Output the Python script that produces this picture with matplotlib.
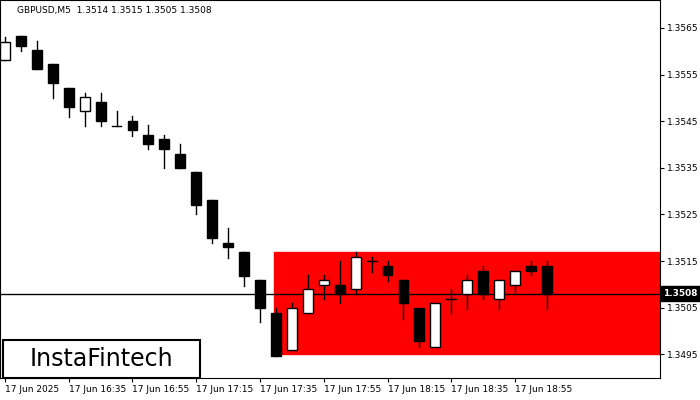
import matplotlib.pyplot as plt
from matplotlib.patches import Rectangle

opens = [1.35581, 1.35633, 1.35603, 1.35573, 1.35521, 1.35472, 1.35491, 1.35440, 1.35450, 1.35420, 1.35412, 1.35380,
         1.35341, 1.35281, 1.35188, 1.35169, 1.35109, 1.35038, 1.34959, 1.35038, 1.35098, 1.35098, 1.35090, 1.35150,
         1.35139, 1.35109, 1.35049, 1.34965, 1.35068, 1.35079, 1.35128, 1.35068, 1.35098, 1.35139, 1.35139]
closes = [1.35620, 1.35611, 1.35562, 1.35532, 1.35480, 1.35502, 1.35450, 1.35440, 1.35431, 1.35401, 1.35390, 1.35349,
          1.35270, 1.35199, 1.35180, 1.35117, 1.35049, 1.34946, 1.35049, 1.35090, 1.35109, 1.35079, 1.35158, 1.35150,
          1.35120, 1.35060, 1.34978, 1.35060, 1.35068, 1.35109, 1.35079, 1.35109, 1.35128, 1.35128, 1.35079]
highs = [1.35631, 1.35633, 1.35622, 1.35573, 1.35521, 1.35510, 1.35510, 1.35472, 1.35461, 1.35442, 1.35420, 1.35401,
         1.35341, 1.35281, 1.35221, 1.35169, 1.35109, 1.35049, 1.35060, 1.35120, 1.35120, 1.35150, 1.35169, 1.35158,
         1.35150, 1.35109, 1.35049, 1.35060, 1.35090, 1.35120, 1.35139, 1.35109, 1.35128, 1.35150, 1.35150]
lows = [1.35581, 1.35601, 1.35562, 1.35500, 1.35459, 1.35440, 1.35440, 1.35440, 1.35418, 1.35390, 1.35349, 1.35349,
        1.35251, 1.35188, 1.35156, 1.35096, 1.35019, 1.34946, 1.34959, 1.35038, 1.35068, 1.35060, 1.35079, 1.35126,
        1.35107, 1.35025, 1.34965, 1.34965, 1.35038, 1.35047, 1.35068, 1.35047, 1.35079, 1.35120, 1.35047]
time_labels = ['17 Jun 2025', '17 Jun 16:35', '17 Jun 16:55', '17 Jun 17:15', '17 Jun 17:35',
               '17 Jun 17:55', '17 Jun 18:15', '17 Jun 18:35', '17 Jun 18:55']
price_ticks = [1.3495, 1.3505, 1.3515, 1.3525, 1.3535, 1.3545, 1.3555, 1.3565]
last_price = 1.3508
zone_start, zone_top, zone_bottom = 16.9, 1.35169, 1.3495

fig = plt.figure(figsize=(7, 4), dpi=100)
ax = fig.add_axes([0.0, 0.055, 0.943, 0.945])

ax.add_patch(Rectangle((zone_start, zone_bottom), 60, zone_top - zone_bottom, color='#ff0000', zorder=0))
ax.axhline(last_price, color='black', lw=1, zorder=1)

w = 0.62
for i, (o, c, h, l) in enumerate(zip(opens, closes, highs, lows)):
    ax.plot([i, i], [l, h], color='black', lw=1, zorder=2)
    if abs(c - o) < 0.00003:
        ax.plot([i - w / 2, i + w / 2], [o, o], color='black', lw=1, zorder=3)
        continue
    face = 'white' if c > o else 'black'
    ax.add_patch(Rectangle((i - w / 2, min(o, c)), w, abs(c - o), facecolor=face,
                           edgecolor='black', lw=1, zorder=3))

ax.set_xlim(-0.31, 41.1)
ax.set_ylim(1.34899, 1.35710)
ax.set_xticks(range(0, 33, 4))
ax.set_xticklabels(time_labels, fontsize=6.5)
ax.yaxis.tick_right()
ax.set_yticks(price_ticks)
ax.set_yticklabels([f'{p:.4f}' for p in price_ticks], fontsize=6.5)
ax.tick_params(length=3, pad=2)
for lbl in ax.get_xticklabels():
    lbl.set_horizontalalignment('left')
ax.text(1.005, last_price, f'{last_price:.4f}', transform=ax.get_yaxis_transform(),
        fontsize=6.5, color='white', va='center', ha='left', fontweight='bold',
        bbox=dict(boxstyle='square,pad=0.3', fc='black', ec='black'))

ax.text(0.025, 0.985, 'GBPUSD,M5  1.3514 1.3515 1.3505 1.3508', transform=ax.transAxes,
        fontsize=6.5, va='top', ha='left')

logo = Rectangle((0.0043, 0.055), 0.282, 0.095, transform=fig.transFigure,
                 facecolor='white', edgecolor='black', lw=1.5, zorder=5)
fig.patches.append(logo)
fig.text(0.145, 0.102, 'InstaFintech', fontsize=17, ha='center', va='center', zorder=6)

fig.savefig('out.png', dpi=100)
